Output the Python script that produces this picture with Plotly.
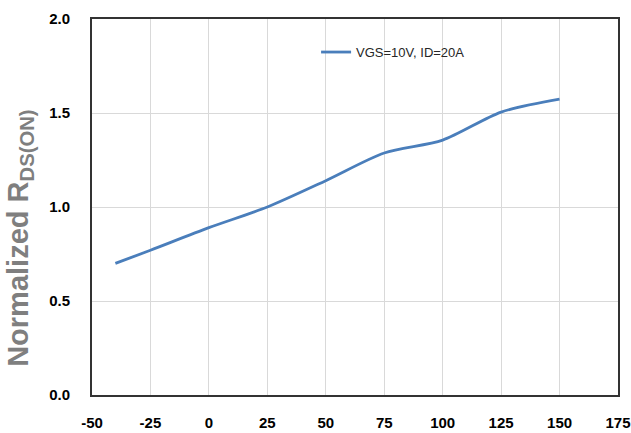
import plotly.graph_objects as go

temps = [-40, -25, 0, 25, 50, 75, 100, 125, 150]
rds_norm = [0.70, 0.77, 0.89, 1.00, 1.14, 1.287, 1.356, 1.505, 1.574]
series_name = "VGS=10V, ID=20A"
x_ticks = [-50, -25, 0, 25, 50, 75, 100, 125, 150, 175]
y_ticks = [0.0, 0.5, 1.0, 1.5, 2.0]
y_title = "<b>Normalized R<sub>DS(ON)</sub></b>"

fig = go.Figure()
fig.add_trace(go.Scatter(
    x=temps, y=rds_norm, mode="lines", name=series_name,
    line=dict(color="#4a7ebb", width=2.8, shape="spline", smoothing=0.8),
))

fig.update_layout(
    width=631, height=433,
    margin=dict(l=92, r=13, t=19, b=38),
    paper_bgcolor="white", plot_bgcolor="white",
    font=dict(family="Liberation Sans, Arial, sans-serif", color="#000000"),
    showlegend=True,
    legend=dict(x=0.426, y=0.912, xanchor="left", yanchor="middle",
                bgcolor="rgba(0,0,0,0)",
                font=dict(size=13, color="#262626", family="Liberation Sans, Arial, sans-serif")),
    annotations=[dict(
        text=y_title, textangle=-90, showarrow=False,
        xref="paper", yref="paper", x=-0.1369, y=0.418,
        xanchor="center", yanchor="middle",
        font=dict(size=29, color="#7f7f7f", family="Liberation Sans, Arial, sans-serif"),
    )],
)
fig.update_xaxes(
    range=[-50, 175], tickvals=x_ticks, ticktext=[f"<b>{v}</b>" for v in x_ticks],
    showgrid=True, gridcolor="#d9d9d9", gridwidth=1,
    showline=True, linecolor="#333333", linewidth=2, mirror=True,
    ticks="outside", ticklen=13, tickcolor="rgba(0,0,0,0)",
    tickfont=dict(size=15, family="Liberation Sans, Arial, sans-serif", color="#000000"),
    zeroline=False, automargin=False,
)
fig.update_yaxes(
    range=[0, 2.0], tickvals=y_ticks, ticktext=[f"<b>{v:.1f}</b>" for v in y_ticks],
    showgrid=True, gridcolor="#d9d9d9", gridwidth=1,
    showline=True, linecolor="#333333", linewidth=2, mirror=True,
    ticks="outside", ticklen=17, tickcolor="rgba(0,0,0,0)",
    tickfont=dict(size=15, family="Liberation Sans, Arial, sans-serif", color="#000000"),
    zeroline=False, automargin=False,
)

fig.write_html(
    "out.html",
    config={"displayModeBar": False},
    post_script="document.body.style.margin='0';document.body.style.overflow='hidden';",
)
